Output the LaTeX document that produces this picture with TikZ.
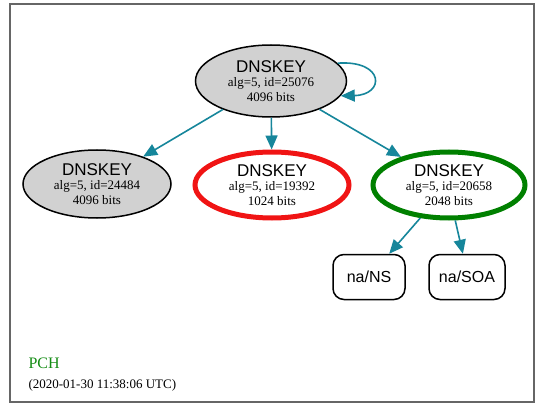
\documentclass[tikz,border=0pt]{standalone}
\usepackage{fontspec}
\setmainfont{Liberation Serif}
\newfontfamily\keyfont{Liberation Sans}
\usetikzlibrary{shapes.geometric,arrows.meta}
\definecolor{edgeteal}{RGB}{22,134,155}
\definecolor{pchgreen}{RGB}{20,140,20}
\definecolor{keyred}{RGB}{240,20,20}
\definecolor{keygreen}{RGB}{0,128,0}
\newcommand{\keytitle}{{\keyfont\fontsize{17}{18}\selectfont DNSKEY}}
\begin{document}
\begin{tikzpicture}[x=1pt,y=-1pt,
  keynode/.style={ellipse, draw=black, line width=1.5pt, minimum width=148, minimum height=68,
    inner sep=0pt, align=center, font=\fontsize{13}{14.5}\selectfont},
  ksk/.style={keynode, fill=black!18},
  revoked/.style={keynode, draw=keyred, line width=5pt, minimum width=154, minimum height=66},
  sep/.style={keynode, draw=keygreen, line width=5pt, minimum width=152, minimum height=66},
  rrnode/.style={draw=black, line width=1.5pt, rounded corners=11pt, minimum height=45,
    inner sep=0pt, font=\keyfont\fontsize{16}{18}\selectfont},
  link/.style={draw=edgeteal, line width=1.6pt, -{Triangle[length=14pt,width=12pt]}}]
\useasboundingbox (0,0) rectangle (539,404);
\draw[line width=2pt, black!60] (10,4) rectangle (534,402);

\node[ksk, minimum width=151, minimum height=72] (k25076) at (271,81)
  {\keytitle\\alg=5, id=25076\\4096 bits};
\node[ksk] (k24484) at (97,184)
  {\keytitle\\alg=5, id=24484\\4096 bits};
\node[revoked] (k19392) at (272,185)
  {\keytitle\\alg=5, id=19392\\1024 bits};
\node[sep] (k20658) at (449,185)
  {\keytitle\\alg=5, id=20658\\2048 bits};

\node[rrnode, minimum width=72] (ns) at (369,277) {na/NS};
\node[rrnode, minimum width=76] (soa) at (467,277) {na/SOA};

\draw[link] (k25076.15) .. controls (385,60) and (385,95) .. (k25076.-12);
\draw[link] (k25076) -- (k24484);
\draw[link] (k25076) -- (k19392);
\draw[link] (k25076) -- (k20658);
\draw[link] (k20658) -- (ns);
\draw[link] (k20658.-80) -- (soa.100);

\node[anchor=west, text=pchgreen, font=\fontsize{16}{18}\selectfont] (zone) at (25,363) {PCH};
\node[anchor=west, font=\fontsize{13}{15}\selectfont] (stamp) at (25,385) {(2020-01-30 11:38:06 UTC)};
\end{tikzpicture}
\end{document}
